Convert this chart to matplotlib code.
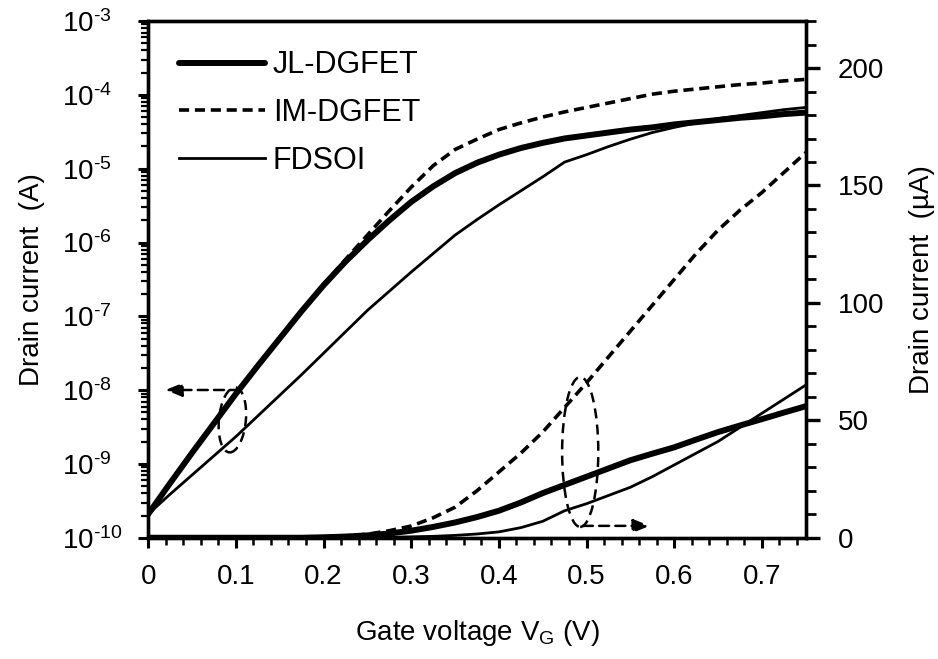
import numpy as np
import matplotlib
matplotlib.use("Agg")
import matplotlib.pyplot as plt
from matplotlib.patches import Ellipse
from matplotlib.ticker import FixedLocator, MultipleLocator, LogLocator, NullFormatter

plt.rcParams['font.family'] = ['Liberation Sans', 'DejaVu Sans']
plt.rcParams['mathtext.fontset'] = 'custom'
plt.rcParams['mathtext.rm'] = 'Liberation Sans'
plt.rcParams['mathtext.it'] = 'Liberation Sans:italic'
plt.rcParams['mathtext.default'] = 'regular'

# Напряжение на затворе (В)
vg = [0, 0.025, 0.05, 0.075, 0.1, 0.125, 0.15, 0.175, 0.2, 0.225, 0.25, 0.275, 0.3, 0.325, 0.35, 0.375,
      0.4, 0.425, 0.45, 0.475, 0.5, 0.525, 0.55, 0.575, 0.6, 0.625, 0.65, 0.675, 0.7, 0.725, 0.75]

# Ток стока, логарифмическая шкала (log10 A)
jl_log = [-9.68, -9.26, -8.85, -8.45, -8.05, -7.67, -7.30, -6.93, -6.58, -6.26, -5.97, -5.70, -5.45, -5.24, -5.06, -4.92,
          -4.81, -4.72, -4.65, -4.59, -4.55, -4.51, -4.47, -4.44, -4.40, -4.37, -4.34, -4.31, -4.29, -4.26, -4.24]
im_log = [-9.68, -9.26, -8.85, -8.45, -8.05, -7.67, -7.30, -6.93, -6.57, -6.23, -5.90, -5.57, -5.25, -4.96, -4.74, -4.60,
          -4.47, -4.38, -4.30, -4.23, -4.17, -4.11, -4.05, -3.99, -3.95, -3.92, -3.89, -3.86, -3.84, -3.81, -3.79]
fd_log = [-9.68, -9.41, -9.15, -8.89, -8.63, -8.35, -8.07, -7.79, -7.50, -7.21, -6.92, -6.66, -6.40, -6.15, -5.90, -5.69,
          -5.49, -5.30, -5.11, -4.91, -4.81, -4.70, -4.60, -4.51, -4.44, -4.38, -4.32, -4.28, -4.24, -4.20, -4.17]

# Ток стока, линейная шкала (мкА)
jl_lin = [0, 0, 0, 0, 0, 0, 0, 0, 0.2, 0.5, 1, 1.8, 3, 4.6, 6.5, 8.8,
          11.5, 15, 19, 22.5, 26, 29.5, 33, 35.8, 38.5, 41.8, 45, 47.8, 50.5, 53.3, 56]
im_lin = [0, 0, 0, 0, 0, 0, 0, 0, 0.3, 0.8, 1.5, 3, 5, 8.5, 13, 20,
          28, 36, 45, 55.5, 66, 77, 88, 99, 110, 121, 131, 139.5, 147, 155.5, 164]
fd_lin = [0, 0, 0, 0, 0, 0, 0, 0, 0, 0, 0.1, 0.2, 0.4, 0.6, 1, 1.6,
          2.5, 4.3, 7, 11.5, 14.5, 18, 21.5, 26, 31, 36, 41, 47, 53, 59, 65]

fig = plt.figure(figsize=(9.38, 6.59), dpi=100)
ax = fig.add_subplot(111)
fig.subplots_adjust(left=0.158, right=0.859, top=0.968, bottom=0.184)
ax2 = ax.twinx()

thick = dict(color='black', lw=4.3, solid_capstyle='round')
dash = dict(color='black', lw=2.6, linestyle=(0, (2.8, 1.6)))
thin = dict(color='black', lw=2.0)

ax.plot(vg, 10 ** np.array(jl_log), label='JL-DGFET', **thick)
ax.plot(vg, 10 ** np.array(im_log), label='IM-DGFET', **dash)
ax.plot(vg, 10 ** np.array(fd_log), label='FDSOI', **thin)

ax2.plot(vg, jl_lin, **thick)
ax2.plot(vg, im_lin, **dash)
ax2.plot(vg, fd_lin, **thin)

ax.set_yscale('log')
ax.set_xlim(0, 0.75)
ax.set_ylim(1e-10, 1e-3)
ax2.set_ylim(0, 220)

ax.xaxis.set_major_locator(FixedLocator([0, 0.1, 0.2, 0.3, 0.4, 0.5, 0.6, 0.7]))
ax.xaxis.set_minor_locator(MultipleLocator(0.02))
ax.set_xticklabels(['0', '0.1', '0.2', '0.3', '0.4', '0.5', '0.6', '0.7'])
exps = range(-10, -2)
ax.set_yticks([10.0 ** e for e in exps])
# дефис вместо длинного минуса в показателе
ax.set_yticklabels(['10$^{\u2010%d}$' % abs(e) for e in exps])
ax.yaxis.set_minor_locator(LogLocator(base=10, subs=np.arange(2, 10), numticks=20))
ax.yaxis.set_minor_formatter(NullFormatter())
ax2.yaxis.set_major_locator(MultipleLocator(50))
ax2.yaxis.set_minor_locator(MultipleLocator(10))

for a in (ax, ax2):
    for s in a.spines.values():
        s.set_linewidth(2.4)
ax.tick_params(axis='x', which='major', length=7, width=2.2, labelsize=20, pad=12)
ax.tick_params(axis='x', which='minor', length=5, width=1.8)
ax.tick_params(axis='y', which='major', length=7, width=2.2, labelsize=20, pad=55)
ax.tick_params(axis='y', which='minor', length=5, width=1.6)
ax2.tick_params(axis='y', which='major', length=10, width=2.4, labelsize=20, pad=13)
ax2.tick_params(axis='y', which='minor', length=7, width=2.0)
# подписи степеней выровнены по левому краю, как в оригинале
for lbl in ax.get_yticklabels():
    lbl.set_horizontalalignment('left')

ax.set_xlabel('Gate voltage V$_G$ (V)', fontsize=20, labelpad=20)
ax.set_ylabel('Drain current  (A)', fontsize=20, labelpad=12)
ax2.set_ylabel('Drain current  (µA)', fontsize=20, labelpad=18)

ax.legend(loc='upper left', frameon=False, fontsize=22, handlelength=2.8,
          handletextpad=0.25, labelspacing=0.58, borderaxespad=0.3,
          bbox_to_anchor=(0.015, 0.985))

# Пунктирные эллипсы и стрелки
ell = dict(fill=False, ec='black', lw=1.8, ls=(0, (4, 2.5)), transform=ax.transAxes)
ax.add_patch(Ellipse((0.128, 0.228), 0.041, 0.126, angle=-4, **ell))
ax.add_patch(Ellipse((0.657, 0.166), 0.055, 0.29, **ell))
arrow = dict(arrowstyle='-|>,head_length=1.0,head_width=0.4', color='black',
             lw=1.8, ls=(0, (4, 2.5)), shrinkA=0, shrinkB=0)
ax.annotate('', xy=(0.026, 0.286), xytext=(0.14, 0.286), xycoords='axes fraction', arrowprops=arrow)
ax.annotate('', xy=(0.763, 0.023), xytext=(0.661, 0.023), xycoords='axes fraction', arrowprops=arrow)

fig.savefig('out.png', dpi=100)
